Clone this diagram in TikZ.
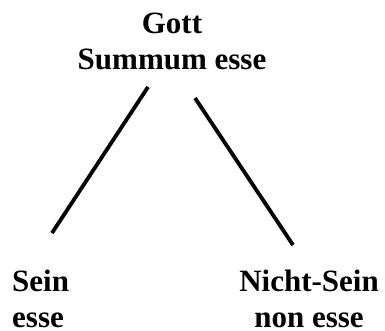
\documentclass[tikz,border=0pt]{standalone}
\usepackage{fontspec}
\setmainfont{Liberation Serif}
\usepackage{tikz}
\usetikzlibrary{positioning,calc}

\begin{document}
\begin{tikzpicture}[x=1pt, y=-1pt,
    label/.style={font=\bfseries\fontsize{31}{36}\selectfont, inner sep=0pt},
    branch/.style={line width=3.8pt}]
  \useasboundingbox (0,0) rectangle (385,331);

  % Top
  \node[label, align=center, anchor=base] (gott) at (172,70) {Gott\\Summum esse};

  % Bottom
  \node[label, align=left, anchor=base west] (sein) at (12,327) {Sein\\esse};
  \node[label, align=center, anchor=base] (nicht) at (309,327) {Nicht-Sein\\non esse};

  % Branch ends
  \coordinate (gott-l) at ($(gott.base)+(-24,17)$);
  \coordinate (gott-r) at ($(gott.base)+(23,28)$);
  \coordinate (sein-t) at ($(sein.base west)+(40,-94)$);
  \coordinate (nicht-t) at ($(nicht.base)+(-16,-82)$);

  \draw[branch] (gott-l) -- (sein-t);
  \draw[branch] (gott-r) -- (nicht-t);
\end{tikzpicture}
\end{document}
